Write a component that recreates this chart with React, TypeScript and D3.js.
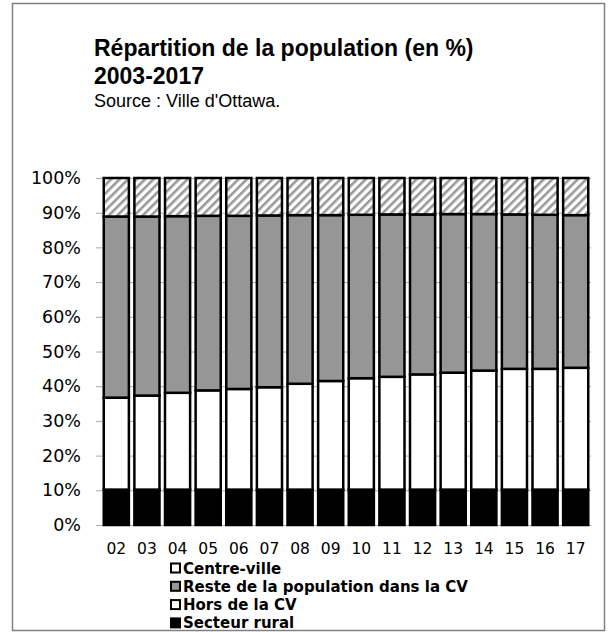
import React, { useEffect, useRef } from 'react';
import * as d3 from 'd3';

// years (x axis labels)
const years = ['02', '03', '04', '05', '06', '07', '08', '09', '10', '11', '12', '13', '14', '15', '16', '17'];

// shares in %, bottom to top
const secteurRural = [10.2, 10.2, 10.2, 10.2, 10.2, 10.2, 10.2, 10.2, 10.2, 10.2, 10.2, 10.2, 10.2, 10.2, 10.2, 10.2];
const horsCV = [26.5, 27.1, 27.9, 28.6, 29.0, 29.5, 30.5, 31.3, 32.1, 32.5, 33.2, 33.7, 34.3, 34.8, 34.8, 35.1];
const resteCV = [52.2, 51.6, 50.9, 50.3, 49.9, 49.5, 48.6, 47.8, 47.1, 46.8, 46.1, 45.7, 45.1, 44.5, 44.4, 44.0];
const centreVille = [11.1, 11.1, 11.0, 10.9, 10.9, 10.8, 10.7, 10.7, 10.6, 10.5, 10.5, 10.4, 10.4, 10.5, 10.6, 10.7];

const yTicks = [0, 10, 20, 30, 40, 50, 60, 70, 80, 90, 100];

const legendItems = [
  { label: 'Centre-ville', fill: '#ffffff' },
  { label: 'Reste de la population dans la CV', fill: '#969696' },
  { label: 'Hors de la CV', fill: '#ffffff' },
  { label: 'Secteur rural', fill: '#000000' },
];

export default function App() {
  const ref = useRef<SVGSVGElement>(null);

  useEffect(() => {
    const svg = d3.select(ref.current);
    svg.selectAll('*').remove();

    const plot = { left: 101, right: 591, top: 178, bottom: 525 };

    // hatch pattern for Centre-ville
    const defs = svg.append('defs');
    const pat = defs
      .append('pattern')
      .attr('id', 'hatch')
      .attr('patternUnits', 'userSpaceOnUse')
      .attr('width', 6)
      .attr('height', 6)
      .attr('patternTransform', 'rotate(45)');
    pat.append('rect').attr('width', 6).attr('height', 6).attr('fill', '#fff');
    pat.append('rect').attr('x', 0).attr('width', 2.6).attr('height', 6).attr('fill', '#999999');

    // outer frame
    svg
      .append('rect')
      .attr('x', 12.5)
      .attr('y', 3.5)
      .attr('width', 592)
      .attr('height', 627)
      .attr('fill', '#fff')
      .attr('stroke', '#808080')
      .attr('stroke-width', 1.5);

    // titles
    const titleFont = '"Liberation Sans", Arial, sans-serif';
    svg
      .append('text')
      .attr('x', 94)
      .attr('y', 56)
      .attr('font-family', titleFont)
      .attr('font-weight', 'bold')
      .attr('font-size', 23)
      .text('Répartition de la population (en %)');
    svg
      .append('text')
      .attr('x', 94)
      .attr('y', 84)
      .attr('font-family', titleFont)
      .attr('font-weight', 'bold')
      .attr('font-size', 23)
      .text('2003-2017');
    svg
      .append('text')
      .attr('x', 94)
      .attr('y', 107)
      .attr('font-family', titleFont)
      .attr('font-size', 18)
      .text("Source : Ville d'Ottawa.");

    const x = d3.scaleBand().domain(years).range([plot.left, plot.right]).paddingInner(0.18).paddingOuter(0.09);
    const y = d3.scaleLinear().domain([0, 100]).range([plot.bottom, plot.top]);

    // gridlines + y axis
    const yAxis = svg
      .append('g')
      .attr('transform', `translate(${plot.left},0)`)
      .call(
        d3
          .axisLeft(y)
          .tickValues(yTicks)
          .tickSize(-(plot.right - plot.left))
          .tickPadding(20)
          .tickFormat((d) => `${d}%`)
      );
    yAxis.select('.domain').remove();
    yAxis.selectAll('line').attr('stroke', '#aaaaaa').attr('x1', -5).attr('stroke-width', 1);
    yAxis
      .selectAll('text')
      .attr('font-family', '"DejaVu Sans", Verdana, sans-serif')
      .attr('font-size', 17.5)
      .attr('fill', '#000');

    // stacked data
    const rows = years.map((yr, i) => ({
      year: yr,
      rural: secteurRural[i],
      hors: horsCV[i],
      reste: resteCV[i],
      centre: centreVille[i],
    }));
    const stack = d3.stack<any>().keys(['rural', 'hors', 'reste', 'centre']).offset(d3.stackOffsetExpand);
    const series = stack(rows);
    const fills: Record<string, string> = {
      rural: '#000000',
      hors: '#ffffff',
      reste: '#969696',
      centre: 'url(#hatch)',
    };

    const bw = x.bandwidth();
    series.forEach((s) => {
      svg
        .append('g')
        .selectAll('rect')
        .data(s)
        .enter()
        .append('rect')
        .attr('x', (d: any) => x(d.data.year)!)
        .attr('y', (d) => y(d[1] * 100))
        .attr('width', bw)
        .attr('height', (d) => y(d[0] * 100) - y(d[1] * 100))
        .attr('fill', fills[s.key])
        .attr('stroke', '#000')
        .attr('stroke-width', 2.5);
    });

    // x labels
    svg
      .append('g')
      .selectAll('text')
      .data(years)
      .enter()
      .append('text')
      .attr('x', (d) => x(d)! + bw / 2)
      .attr('y', 554)
      .attr('text-anchor', 'middle')
      .attr('font-family', '"DejaVu Sans", Verdana, sans-serif')
      .attr('font-size', 15.5)
      .text((d) => d);

    // legend
    const lg = svg.append('g').attr('transform', 'translate(170,568)');
    legendItems.forEach((item, i) => {
      const row = lg.append('g').attr('transform', `translate(0,${i * 18.3})`);
      row
        .append('rect')
        .attr('x', 1)
        .attr('y', -4.5)
        .attr('width', 9)
        .attr('height', 9)
        .attr('fill', item.fill)
        .attr('stroke', '#000')
        .attr('stroke-width', 2);
      row
        .append('text')
        .attr('x', 13)
        .attr('y', 5.5)
        .attr('font-family', '"DejaVu Sans", Verdana, sans-serif')
        .attr('font-weight', 'bold')
        .attr('font-size', 15)
        .text(item.label);
    });
  }, []);

  return (
    <svg
      ref={ref}
      width={616}
      height={632}
      style={{ position: 'absolute', left: 0, top: 0, background: '#fff' }}
    />
  );
}
